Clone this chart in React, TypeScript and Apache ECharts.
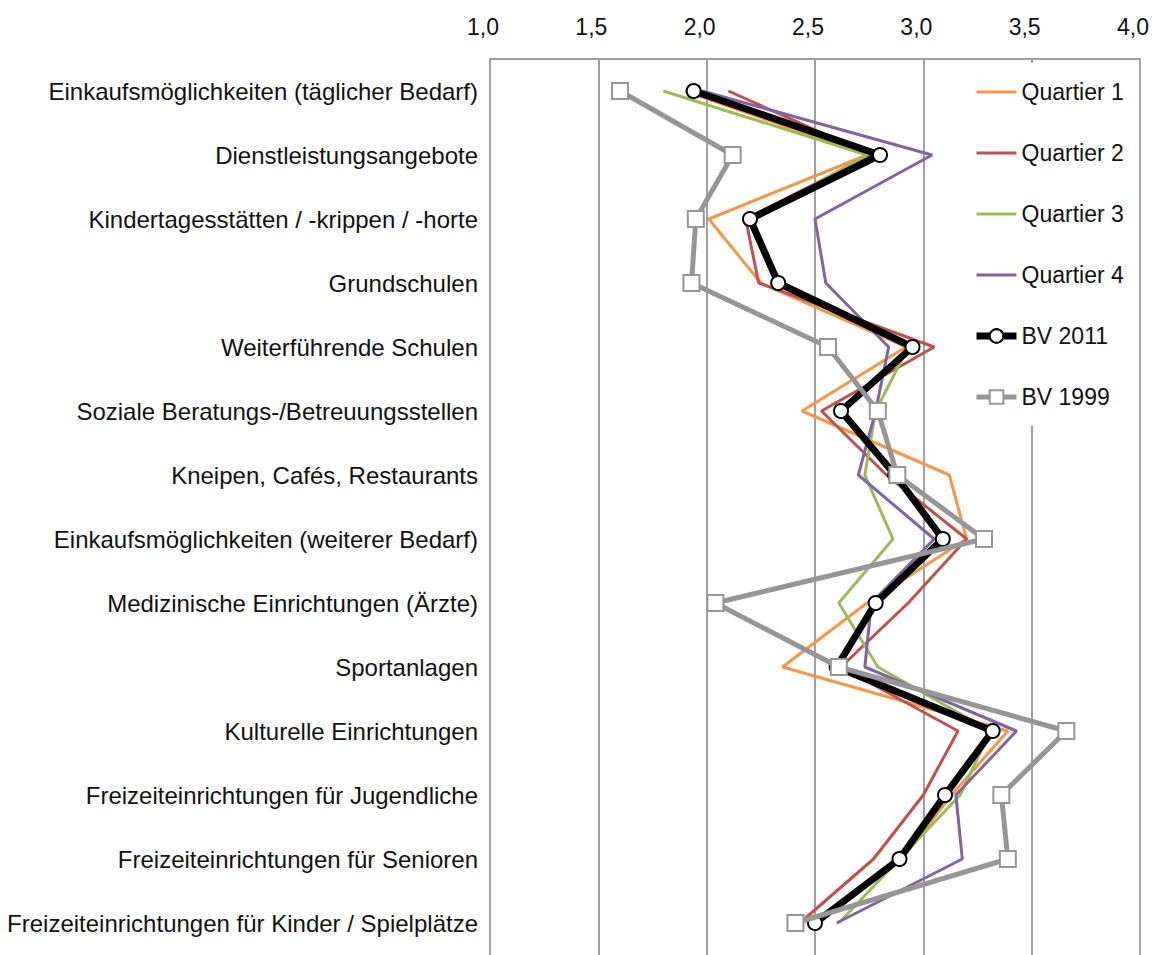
import React, { useEffect, useRef } from "react";
import * as echarts from "echarts";

const categories = [
  "Einkaufsmöglichkeiten (täglicher Bedarf)",
  "Dienstleistungsangebote",
  "Kindertagesstätten / -krippen / -horte",
  "Grundschulen",
  "Weiterführende Schulen",
  "Soziale Beratungs-/Betreuungsstellen",
  "Kneipen, Cafés, Restaurants",
  "Einkaufsmöglichkeiten (weiterer Bedarf)",
  "Medizinische Einrichtungen (Ärzte)",
  "Sportanlagen",
  "Kulturelle Einrichtungen",
  "Freizeiteinrichtungen für Jugendliche",
  "Freizeiteinrichtungen für Senioren",
  "Freizeiteinrichtungen für Kinder / Spielplätze",
];

const quartier1 = [1.9, 2.74, 2.01, 2.25, 2.92, 2.44, 3.12, 3.2, 2.74, 2.35, 3.39, 3.13, 2.9, 2.49];
const quartier2 = [2.1, 2.76, 2.18, 2.24, 3.05, 2.53, 2.83, 3.2, 2.93, 2.62, 3.16, 3.0, 2.77, 2.43];
const quartier3 = [1.8, 2.74, 2.21, 2.32, 2.93, 2.78, 2.73, 2.86, 2.61, 2.79, 3.31, 3.17, 2.89, 2.61];
const quartier4 = [1.98, 3.04, 2.5, 2.55, 2.84, 2.78, 2.7, 3.05, 2.76, 2.73, 3.43, 3.15, 3.18, 2.6];
const bv2011 = [1.94, 2.8, 2.2, 2.33, 2.95, 2.62, 2.87, 3.09, 2.78, 2.6, 3.32, 3.1, 2.89, 2.5];
const bv1999 = [1.6, 2.12, 1.95, 1.93, 2.56, 2.79, 2.88, 3.28, 2.04, 2.61, 3.66, 3.36, 3.39, 2.41];

const FONT = "'Liberation Sans', Arial, sans-serif";

export default function App() {
  const ref = useRef<HTMLDivElement>(null);
  useEffect(() => {
    if (!ref.current) return;
    const chart = echarts.init(ref.current, undefined, { renderer: "svg" });
    const qLine = (name: string, data: number[], color: string) => ({
      name,
      type: "line",
      data,
      symbol: "none",
      showSymbol: false,
      itemStyle: { color },
      lineStyle: { color, width: 3 },
      z: 2,
    });
    const qLegend = (name: string) => ({
      name,
      itemStyle: { opacity: 0 },
      lineStyle: { width: 3 },
    });
    chart.setOption({
      animation: false,
      textStyle: { fontFamily: FONT },
      grid: { left: 490, right: 12, top: 59, height: 901, containLabel: false },
      xAxis: {
        type: "value",
        position: "top",
        min: 1,
        max: 4,
        interval: 0.5,
        axisLine: { show: true, lineStyle: { color: "#a0a0a0", width: 2 } },
        axisTick: { show: false },
        splitLine: { show: true, lineStyle: { color: "#a0a0a0", width: 2 } },
        axisLabel: {
          fontSize: 23,
          color: "#111",
          fontFamily: FONT,
          margin: 21,
          padding: [0, 14, 0, 0],
          formatter: (v: number) => v.toFixed(1).replace(".", ","),
        },
      },
      yAxis: {
        type: "category",
        data: categories,
        inverse: true,
        axisLine: { show: false },
        axisTick: { show: false },
        splitLine: { show: false },
        axisLabel: { fontSize: 24, color: "#111", fontFamily: FONT, margin: 12 },
      },
      legend: {
        orient: "vertical",
        left: 963,
        top: 63,
        padding: [16, 5, 16, 10],
        backgroundColor: "#ffffff",
        itemWidth: 40,
        itemHeight: 17,
        itemGap: 35,
        textStyle: { fontSize: 23, color: "#111", fontFamily: FONT, lineHeight: 26 },
        data: [
          qLegend("Quartier 1"),
          qLegend("Quartier 2"),
          qLegend("Quartier 3"),
          qLegend("Quartier 4"),
          { name: "BV 2011", lineStyle: { width: 7 } },
          { name: "BV 1999", lineStyle: { width: 5 } },
        ],
      },
      series: [
        qLine("Quartier 1", quartier1, "#f79646"),
        qLine("Quartier 2", quartier2, "#c0504d"),
        qLine("Quartier 3", quartier3, "#9bbb59"),
        qLine("Quartier 4", quartier4, "#8064a2"),
        {
          name: "BV 2011",
          type: "line",
          data: bv2011,
          symbol: "circle",
          symbolSize: 14,
          itemStyle: { color: "#ffffff", borderColor: "#000000", borderWidth: 2 },
          lineStyle: { color: "#000000", width: 7 },
          z: 3,
        },
        {
          name: "BV 1999",
          type: "line",
          data: bv1999,
          symbol: "rect",
          symbolSize: 16,
          itemStyle: { color: "#ffffff", borderColor: "#969696", borderWidth: 2 },
          lineStyle: { color: "#969696", width: 5 },
          z: 4,
        },
      ],
    });
    return () => chart.dispose();
  }, []);
  return (
    <div
      ref={ref}
      style={{ position: "fixed", left: 0, top: 0, width: 1152, height: 955, background: "#fff" }}
    />
  );
}
